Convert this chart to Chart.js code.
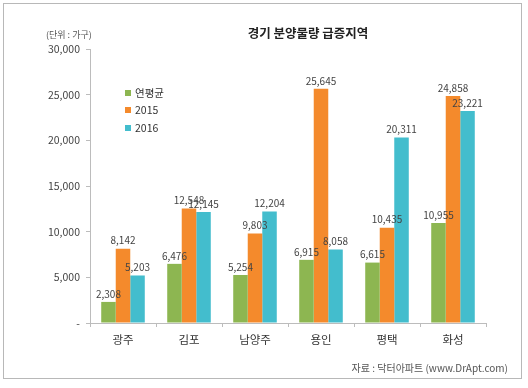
<!DOCTYPE html>
<html>
<head>
<meta charset="utf-8">
<script src="https://cdn.jsdelivr.net/npm/chart.js@4.4.0/dist/chart.umd.min.js"></script>
<style>
  html, body { margin: 0; padding: 0; background: #fff; }
  #wrap { position: relative; width: 528px; height: 388px; }
  #frame { position: absolute; left: 3px; top: 3px; width: 519px; height: 376px; border: 1px solid #b8b8b8; box-sizing: border-box; pointer-events: none; }
</style>
</head>
<body>
<div id="wrap">
  <canvas id="myChart" width="528" height="388"></canvas>
  <div id="frame"></div>
</div>
<script>
var regions = ['광주', '김포', '남양주', '용인', '평택', '화성'];
var avgValues = [2308, 6476, 5254, 6915, 6615, 10955];
var values2015 = [8142, 12548, 9803, 25645, 10435, 24858];
var values2016 = [5203, 12145, 12204, 8058, 20311, 23221];
var seriesNames = ['연평균', '2015', '2016'];
var yTicks = [0, 5000, 10000, 15000, 20000, 25000, 30000];

var colors = ['#8DB651', '#F48A2C', '#43BDCD'];
var font = "'Noto Sans CJK KR', 'Noto Sans', sans-serif";

function fmt(v) {
    return v === 0 ? '-' : v.toLocaleString('en-US');
}

// value labels, title, unit, legend and source
var extras = {
    id: 'extras',
    afterDatasetsDraw: function(chart) {
        var c = chart.ctx;
        c.save();
        c.fillStyle = '#444';
        c.font = '10px ' + font;
        c.textAlign = 'center';
        c.textBaseline = 'bottom';
        chart.data.datasets.forEach(function(ds, i) {
            var meta = chart.getDatasetMeta(i);
            meta.data.forEach(function(bar, j) {
                c.fillText(fmt(ds.data[j]), bar.x, bar.y - 3);
            });
        });

        c.fillStyle = '#222';
        c.font = 'bold 12.5px ' + font;
        c.textBaseline = 'middle';
        c.fillText('경기 분양물량 급증지역', 308, 33);

        c.fillStyle = '#555';
        c.font = '9px ' + font;
        c.textAlign = 'left';
        c.fillText('(단위 : 가구)', 46, 35);

        c.font = '10px ' + font;
        c.textAlign = 'right';
        c.fillText('자료 : 닥터아파트 (www.DrApt.com)', 508, 368);

        c.textAlign = 'left';
        c.font = '10.5px ' + font;
        var ly = [93, 110, 128];
        for (var i = 0; i < seriesNames.length; i++) {
            c.fillStyle = colors[i];
            c.fillRect(125, ly[i] - 3, 6, 6);
            c.fillStyle = '#333';
            c.fillText(seriesNames[i], 135, ly[i]);
        }
        c.restore();
    }
};

const ctx = document.getElementById('myChart').getContext('2d');

const myChart = new Chart(ctx, {
    type: 'bar',
    data: {
        labels: regions,
        datasets: [
            { label: seriesNames[0], data: avgValues, backgroundColor: colors[0] },
            { label: seriesNames[1], data: values2015, backgroundColor: colors[1] },
            { label: seriesNames[2], data: values2016, backgroundColor: colors[2] }
        ]
    },
    options: {
        responsive: false,
        animation: false,
        events: [],
        categoryPercentage: 0.66,
        barPercentage: 1,
        layout: { padding: { top: 49, right: 42, bottom: 0, left: 0 } },
        plugins: {
            legend: { display: false },
            tooltip: { enabled: false }
        },
        scales: {
            y: {
                min: 0,
                max: 30000,
                afterBuildTicks: function(scale) {
                    scale.ticks = yTicks.map(function(v) { return { value: v }; });
                },
                afterFit: function(scale) { scale.width = 90; },
                border: { display: true, color: '#bcbcbc' },
                grid: { drawOnChartArea: false, drawTicks: true, tickLength: 4, color: '#bcbcbc' },
                ticks: {
                    padding: 6,
                    color: '#444',
                    font: { family: font, size: 10.5 },
                    callback: function(v) { return fmt(v); }
                }
            },
            x: {
                afterFit: function(scale) { scale.height = 65; },
                border: { display: true, color: '#bcbcbc' },
                grid: { offset: true, drawOnChartArea: false, drawTicks: true, tickLength: 4, color: '#bcbcbc' },
                ticks: {
                    padding: 6,
                    color: '#333',
                    font: { family: font, size: 11.5 }
                }
            }
        }
    },
    plugins: [extras]
});
</script>
</body>
</html>
